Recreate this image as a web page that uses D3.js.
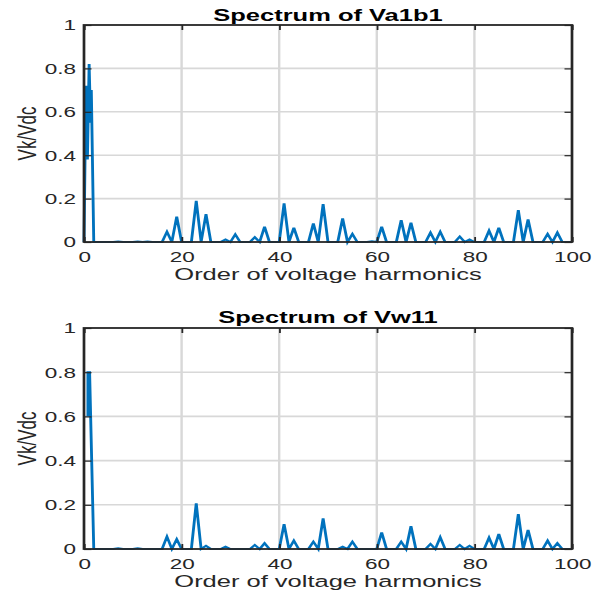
<!DOCTYPE html>
<html>
<head>
<meta charset="utf-8">
<script src="https://cdn.jsdelivr.net/npm/d3@7"></script>
<style>
  html, body { margin: 0; padding: 0; background: #fff; }
  svg { display: block; }
</style>
</head>
<body>
<div id="chart"></div>
<script>
// ---- Data ----
const titles = ["Spectrum of Va1b1", "Spectrum of Vw11"];
const xLabel = "Order of voltage harmonics";
const yLabel = "Vk/Vdc";
const xTickValues = [0, 20, 40, 60, 80, 100];
const yTickValues = [0, 0.2, 0.4, 0.6, 0.8, 1];

// fundamental region (order, value) pairs
const fundVa1b1 = [[0, 0], [0.4, 0.72], [0.7, 0.38], [1.05, 0.82], [1.35, 0.55], [1.5, 0.7], [2, 0]];
const fundVw11 = [[0.8, 0.6], [0.8, 0.8], [1.15, 0.8], [2, 0]];

// harmonic orders with non-zero content (all other integer orders 2..100 read as 0)
const harmonicOrders = [7, 11, 13, 17, 19, 23, 25, 29, 31, 35, 37, 41, 43, 47, 49, 53, 55, 59, 61, 65, 67, 71, 73, 77, 79, 83, 85, 89, 91, 95, 97];
const va1b1 = [0.003, 0.003, 0.002, 0.047, 0.117, 0.19, 0.128, 0.012, 0.035, 0.022, 0.07, 0.178, 0.066, 0.086, 0.175, 0.109, 0.037, 0.004, 0.07, 0.101, 0.089, 0.043, 0.047, 0.025, 0.012, 0.052, 0.066, 0.147, 0.104, 0.037, 0.043];
const vw11  = [0.003, 0.003, 0.0, 0.056, 0.044, 0.207, 0.014, 0.011, 0.0, 0.018, 0.026, 0.112, 0.038, 0.033, 0.139, 0.011, 0.033, 0.0, 0.075, 0.033, 0.104, 0.023, 0.053, 0.018, 0.014, 0.051, 0.068, 0.158, 0.086, 0.038, 0.026];
const lastOrder = 100;

// ---- Layout ----
const W = 603, H = 594;
const S = 1.5; // horizontal stretch of the reference
const X0 = 84, X1 = 572;
const panels = [
  { title: titles[0], fund: fundVa1b1, vals: va1b1, top: 25, bot: 242, titleY: 21, tickY: 20, labelY: 280 },
  { title: titles[1], fund: fundVw11, vals: vw11, top: 328, bot: 549, titleY: 323, tickY: 20, labelY: 587 }
];
const FONT = "'Liberation Sans', Arial, Helvetica, sans-serif";
const axisColor = "#262626";
const gridColor = "#d8d8d8";
const lineColor = "#0072BD";

const svg = d3.select("#chart").append("svg")
  .attr("width", W).attr("height", H)
  .attr("viewBox", `0 0 ${W} ${H}`);
svg.append("rect").attr("width", W).attr("height", H).attr("fill", "#fff");

const root = svg.append("g").attr("transform", `scale(${S},1)`);

const x = d3.scaleLinear().domain([0, 100]).range([X0 / S, X1 / S]);

function buildSeries(fund, vals) {
  const m = new Map(harmonicOrders.map((o, i) => [o, vals[i]]));
  const pts = fund.slice();
  for (let h = 3; h <= lastOrder; h++) pts.push([h, m.has(h) ? m.get(h) : 0]);
  return pts;
}

panels.forEach(p => {
  const y = d3.scaleLinear().domain([0, 1]).range([p.bot, p.top]);
  const g = root.append("g");

  // grid
  g.append("g").selectAll("line").data(xTickValues.filter(v => v > 0 && v < 100)).join("line")
    .attr("x1", d => x(d)).attr("x2", d => x(d))
    .attr("y1", p.top).attr("y2", p.bot)
    .attr("stroke", gridColor).attr("stroke-width", 1.6);
  g.append("g").selectAll("line").data(yTickValues.filter(v => v > 0 && v < 1)).join("line")
    .attr("x1", x(0)).attr("x2", x(100))
    .attr("y1", d => y(d)).attr("y2", d => y(d))
    .attr("stroke", gridColor).attr("stroke-width", 1.6);

  // data line
  const series = buildSeries(p.fund, p.vals);
  g.append("path").datum(series)
    .attr("fill", "none").attr("stroke", lineColor).attr("stroke-width", 1.9)
    .attr("stroke-linejoin", "miter")
    .attr("d", d3.line().x(d => x(d[0])).y(d => y(d[1])));

  // axes
  const styleAxis = sel => {
    sel.select(".domain").remove();
    sel.selectAll(".tick line").attr("stroke", axisColor).attr("stroke-width", 1.2);
    sel.selectAll(".tick text").attr("fill", axisColor)
      .attr("font-family", FONT).attr("font-size", 15);
  };
  g.append("g").attr("transform", `translate(0,${p.bot})`)
    .call(d3.axisBottom(x).tickValues(xTickValues).tickSize(-5).tickPadding(p.tickY - 10.7).tickFormat(d3.format("d")))
    .call(styleAxis);
  g.append("g").attr("transform", `translate(0,${p.top})`)
    .call(d3.axisTop(x).tickValues(xTickValues).tickSize(-5).tickFormat(""))
    .call(styleAxis);
  g.append("g").attr("transform", `translate(${x(0)},0)`)
    .call(d3.axisLeft(y).tickValues(yTickValues).tickSize(-5).tickPadding(5.3)
      .tickFormat(d => (d === 0 || d === 1) ? String(d) : d3.format(".1f")(d)))
    .call(styleAxis);
  g.append("g").attr("transform", `translate(${x(100)},0)`)
    .call(d3.axisRight(y).tickValues(yTickValues).tickSize(-5).tickFormat(""))
    .call(styleAxis);

  // box
  g.append("rect")
    .attr("x", x(0)).attr("y", p.top)
    .attr("width", x(100) - x(0)).attr("height", p.bot - p.top)
    .attr("fill", "none").attr("stroke", axisColor).attr("stroke-width", 1.8);

  // title
  g.append("text")
    .attr("x", (x(0) + x(100)) / 2).attr("y", p.titleY)
    .attr("text-anchor", "middle").attr("font-family", FONT)
    .attr("font-weight", "bold").attr("font-size", 17).attr("fill", "#000")
    .text(p.title);

  // x label
  g.append("text")
    .attr("x", (x(0) + x(100)) / 2).attr("y", p.labelY)
    .attr("text-anchor", "middle").attr("font-family", FONT)
    .attr("font-size", 17).attr("fill", axisColor)
    .text(xLabel);

  // y label
  g.append("text")
    .attr("transform", `translate(${36 / S},${(p.top + p.bot) / 2}) rotate(-90)`)
    .attr("text-anchor", "middle").attr("font-family", FONT)
    .attr("font-size", 17).attr("fill", axisColor)
    .text(yLabel);
});
</script>
</body>
</html>
